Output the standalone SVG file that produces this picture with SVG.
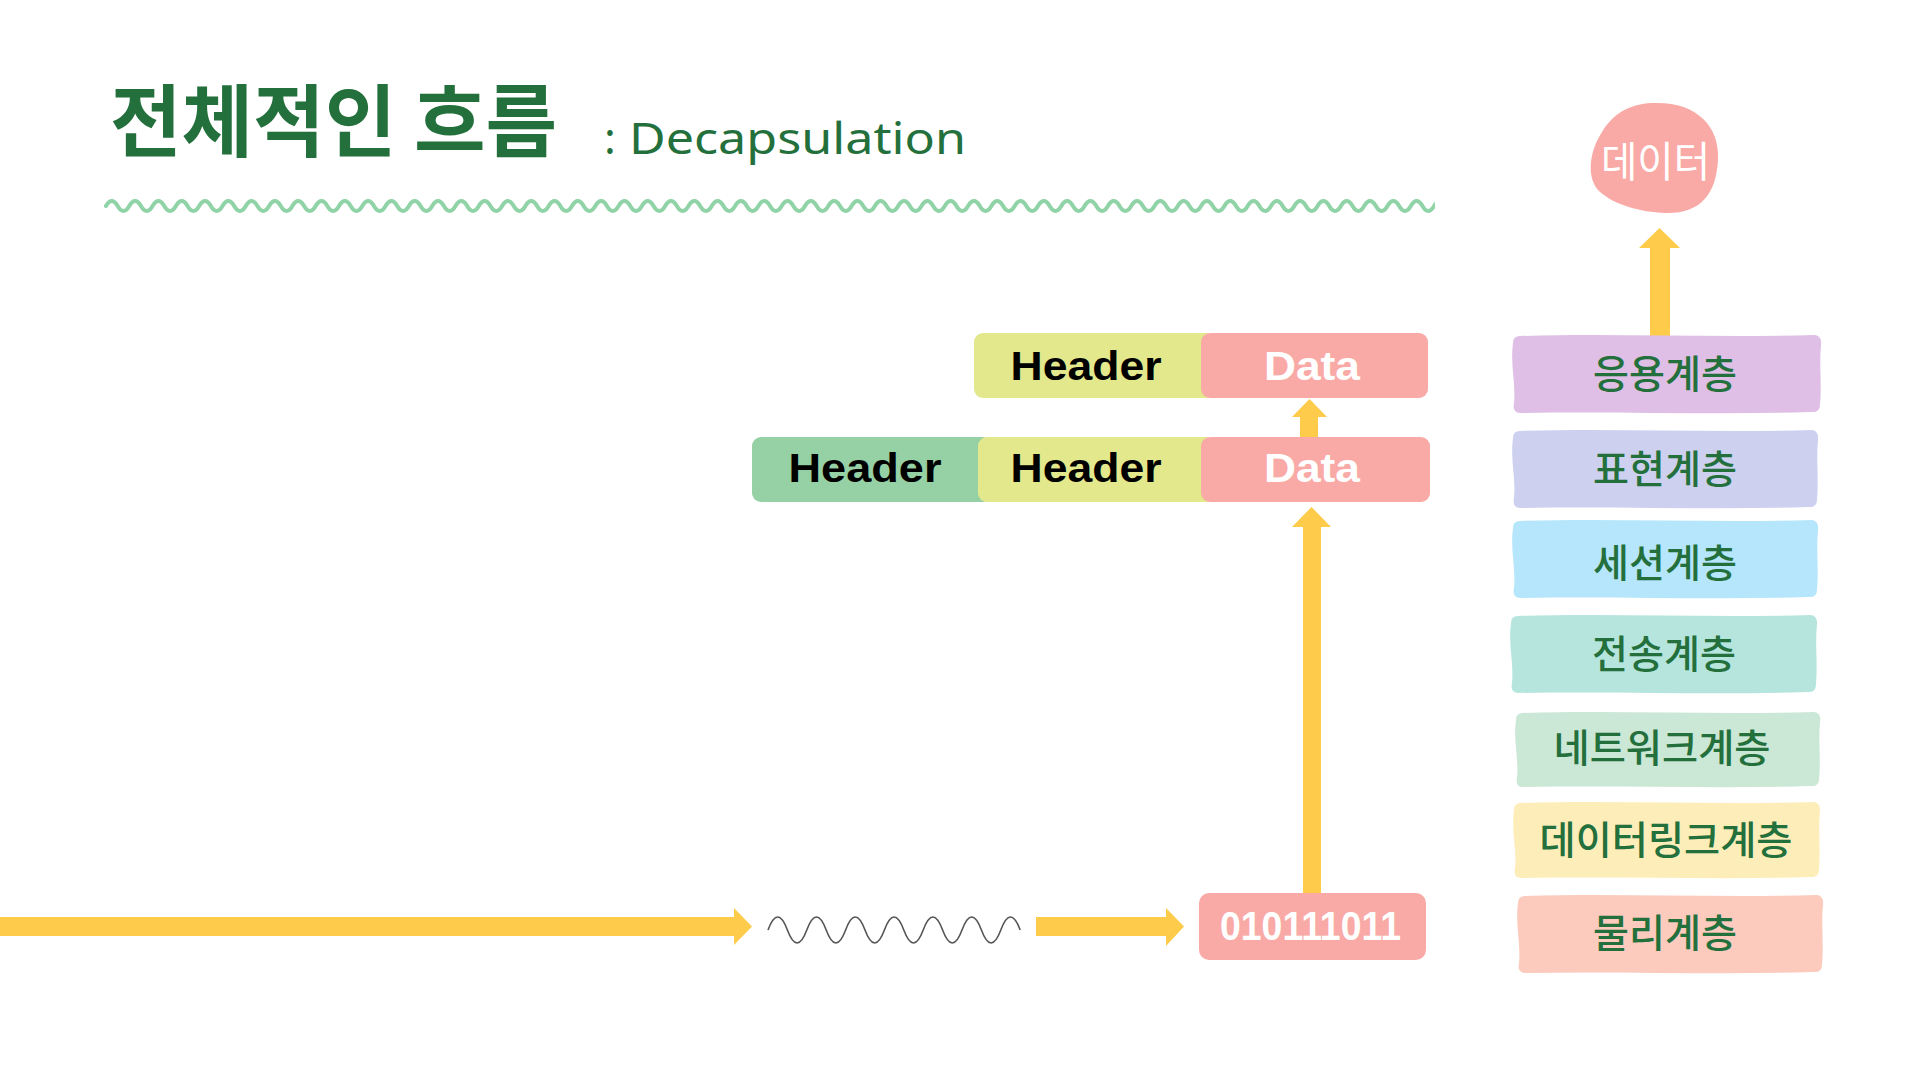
<svg xmlns="http://www.w3.org/2000/svg" width="1920" height="1080" viewBox="0 0 1920 1080">
<style>
.title{font-family:"Noto Sans CJK KR","Noto Sans",sans-serif;font-weight:bold;fill:#23703c}
.sub{font-family:"Noto Sans","Liberation Sans",sans-serif;fill:#23703c}
.hdr{font-family:"Liberation Sans",Arial,sans-serif;font-weight:bold;font-size:40px;fill:#000;text-anchor:middle}
.dat{font-family:"Liberation Sans",Arial,sans-serif;font-weight:bold;font-size:41px;fill:#fff;text-anchor:middle}
.layer{font-family:"Noto Sans CJK KR","Noto Sans",sans-serif;font-weight:500;font-size:39px;fill:#24703d;text-anchor:middle}
.arrow{fill:#fecb4a}
.c-yel{fill:#e2e88b}
.c-pink{fill:#f9aaa6}
.c-grn{fill:#96d1a6}
</style>
<defs>
<path id="rough" d="M8,1 C100,-2 200,3 300,0 Q307,1 306,10 C304,30 307,48 305,70 Q305,78 296,77 C200,80 100,76 8,78 Q0,78 2,68 C4,48 -2,30 1,8 Q1,1 8,1 Z"/>
<clipPath id="waveclip"><rect x="100" y="190" width="1335" height="32"/></clipPath>
</defs>
<rect width="1920" height="1080" fill="#fff"/>

<g id="title">
<text class="title" x="110" y="151" font-size="79" textLength="447" lengthAdjust="spacingAndGlyphs">전체적인 흐름</text>
<text class="sub" x="604" y="154" font-size="44">:</text>
<text class="sub" x="629" y="154" font-size="44" textLength="337" lengthAdjust="spacingAndGlyphs">Decapsulation</text>
<path clip-path="url(#waveclip)" fill="none" stroke="#8fd3a6" stroke-width="4" stroke-linecap="round" d="M106,206 q5.825,-10 11.65,0 t11.65,0 t11.65,0 t11.65,0 t11.65,0 t11.65,0 t11.65,0 t11.65,0 t11.65,0 t11.65,0 t11.65,0 t11.65,0 t11.65,0 t11.65,0 t11.65,0 t11.65,0 t11.65,0 t11.65,0 t11.65,0 t11.65,0 t11.65,0 t11.65,0 t11.65,0 t11.65,0 t11.65,0 t11.65,0 t11.65,0 t11.65,0 t11.65,0 t11.65,0 t11.65,0 t11.65,0 t11.65,0 t11.65,0 t11.65,0 t11.65,0 t11.65,0 t11.65,0 t11.65,0 t11.65,0 t11.65,0 t11.65,0 t11.65,0 t11.65,0 t11.65,0 t11.65,0 t11.65,0 t11.65,0 t11.65,0 t11.65,0 t11.65,0 t11.65,0 t11.65,0 t11.65,0 t11.65,0 t11.65,0 t11.65,0 t11.65,0 t11.65,0 t11.65,0 t11.65,0 t11.65,0 t11.65,0 t11.65,0 t11.65,0 t11.65,0 t11.65,0 t11.65,0 t11.65,0 t11.65,0 t11.65,0 t11.65,0 t11.65,0 t11.65,0 t11.65,0 t11.65,0 t11.65,0 t11.65,0 t11.65,0 t11.65,0 t11.65,0 t11.65,0 t11.65,0 t11.65,0 t11.65,0 t11.65,0 t11.65,0 t11.65,0 t11.65,0 t11.65,0 t11.65,0 t11.65,0 t11.65,0 t11.65,0 t11.65,0 t11.65,0 t11.65,0 t11.65,0 t11.65,0 t11.65,0 t11.65,0 t11.65,0 t11.65,0 t11.65,0 t11.65,0 t11.65,0 t11.65,0 t11.65,0 t11.65,0 t11.65,0 t11.65,0 t11.65,0 t11.65,0 t11.65,0 t11.65,0 t11.65,0 t11.65,0 t11.65,0"/>
</g>

<g id="connectors">
<path class="arrow" d="M0,917 H734 V908 L752,926.5 L734,945 V936 H0 Z"/>
<path fill="none" stroke="#555" stroke-width="1.6" d="M768,930 q9.7,-26 19.4,0 t19.4,0 t19.4,0 t19.4,0 t19.4,0 t19.4,0 t19.4,0 t19.4,0 t19.4,0 t19.4,0 t19.4,0 t19.4,0 t19.4,0"/>
<path class="arrow" d="M1036,917 H1166 V908 L1184,926.5 L1166,946 V936 H1036 Z"/>
<path class="arrow" d="M1303,894 V527 H1292 L1311.5,507 L1331,527 H1321 V894 Z"/>
<path class="arrow" d="M1300,438 V417 H1292 L1309.5,399 L1327,417 H1318 V438 Z"/>
<path class="arrow" d="M1650,336 V248 H1639 L1659.5,228 L1680,248 H1670 V336 Z"/>
</g>

<g id="packet-top">
<rect class="c-yel" x="974" y="333" width="241" height="65" rx="9"/>
<rect class="c-pink" x="1201" y="333" width="227" height="65" rx="9"/>
<text class="hdr" x="1086" y="380" textLength="151" lengthAdjust="spacingAndGlyphs">Header</text>
<text class="dat" x="1312" y="380" textLength="96" lengthAdjust="spacingAndGlyphs">Data</text>
</g>

<g id="packet-mid">
<rect class="c-grn" x="752" y="437" width="240" height="65" rx="9"/>
<rect class="c-yel" x="978" y="437" width="237" height="65" rx="9"/>
<rect class="c-pink" x="1201" y="437" width="229" height="65" rx="9"/>
<text class="hdr" x="865" y="482" textLength="153" lengthAdjust="spacingAndGlyphs">Header</text>
<text class="hdr" x="1086" y="482" textLength="151" lengthAdjust="spacingAndGlyphs">Header</text>
<text class="dat" x="1312" y="482" textLength="96" lengthAdjust="spacingAndGlyphs">Data</text>
</g>

<g id="bits">
<rect class="c-pink" x="1199" y="893" width="227" height="67" rx="10"/>
<text class="dat" x="1310.5" y="940" font-size="45" textLength="181" lengthAdjust="spacingAndGlyphs">010111011</text>
</g>

<g id="data-blob">
<path class="c-pink" d="M1655,103 C1695,102 1720,125 1718,160 C1716,195 1700,214 1665,213 C1640,212 1615,205 1600,192 C1585,178 1590,150 1602,132 C1615,110 1635,103 1655,103 Z"/>
<text x="1655.5" y="177" font-family="'Noto Sans CJK KR','Noto Sans',sans-serif" font-size="42" fill="#fff" text-anchor="middle" textLength="109" lengthAdjust="spacingAndGlyphs">데이터</text>
</g>

<g id="layer-application">
<use href="#rough" transform="translate(1512,335) scale(1.0098,1)" fill="#dfbfe5"/>
<text class="layer" x="1665" y="388" textLength="144" lengthAdjust="spacingAndGlyphs">응용계층</text>
</g>
<g id="layer-presentation">
<use href="#rough" transform="translate(1512,430)" fill="#cdd1ef"/>
<text class="layer" x="1665" y="483" textLength="144" lengthAdjust="spacingAndGlyphs">표현계층</text>
</g>
<g id="layer-session">
<use href="#rough" transform="translate(1512,520)" fill="#b5e6fb"/>
<text class="layer" x="1665" y="577" textLength="144" lengthAdjust="spacingAndGlyphs">세션계층</text>
</g>
<g id="layer-transport">
<use href="#rough" transform="translate(1510,615) scale(1.003,1)" fill="#b6e5de"/>
<text class="layer" x="1664" y="668" textLength="144" lengthAdjust="spacingAndGlyphs">전송계층</text>
</g>
<g id="layer-network">
<use href="#rough" transform="translate(1515,712) scale(0.997,0.962)" fill="#cbe7d6"/>
<text class="layer" x="1662" y="762" textLength="217" lengthAdjust="spacingAndGlyphs">네트워크계층</text>
</g>
<g id="layer-datalink">
<use href="#rough" transform="translate(1513,802) scale(1.003,0.975)" fill="#fdeeb9"/>
<text class="layer" x="1666" y="854" textLength="253" lengthAdjust="spacingAndGlyphs">데이터링크계층</text>
</g>
<g id="layer-physical">
<use href="#rough" transform="translate(1517,895)" fill="#fccbbe"/>
<text class="layer" x="1665" y="947" textLength="144" lengthAdjust="spacingAndGlyphs">물리계층</text>
</g>
</svg>
